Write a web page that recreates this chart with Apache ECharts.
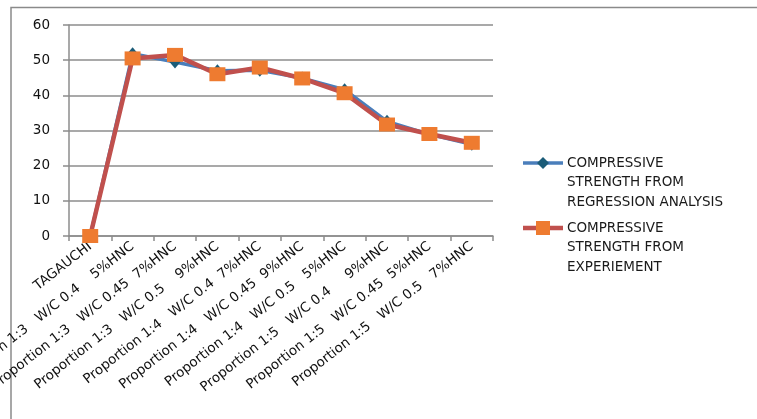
<!DOCTYPE html>
<html>
<head>
<meta charset="utf-8">
<script src="https://cdn.jsdelivr.net/npm/echarts@6/dist/echarts.min.js"></script>
<style>
html,body{margin:0;padding:0;background:#fff;overflow:hidden;}
#chart{width:757px;height:419px;}
</style>
</head>
<body>
<div id="chart"></div>
<script>
const categories = [
  "TAGAUCHI",
  "Proportion 1:3   W/C 0.4    5%HNC",
  "Proportion 1:3   W/C 0.45  7%HNC",
  "Proportion 1:3   W/C 0.5    9%HNC",
  "Proportion 1:4   W/C 0.4  7%HNC",
  "Proportion 1:4   W/C 0.45  9%HNC",
  "Proportion 1:4   W/C 0.5   5%HNC",
  "Proportion 1:5   W/C 0.4     9%HNC",
  "Proportion 1:5   W/C 0.45  5%HNC",
  "Proportion 1:5   W/C 0.5   7%HNC"
];
const regressionValues = [0, 51.8, 49.5, 47.0, 47.1, 44.9, 41.6, 32.6, 28.9, 26.1];
const experimentValues = [0, 50.5, 51.5, 46.0, 47.9, 44.8, 40.6, 31.7, 29.0, 26.5];
const yTicks = [0, 10, 20, 30, 40, 50, 60];
const seriesNames = ["COMPRESSIVE STRENGTH FROM REGRESSION ANALYSIS", "COMPRESSIVE STRENGTH FROM EXPERIEMENT"];
const legendLines = [
  ["COMPRESSIVE", "STRENGTH FROM", "REGRESSION ANALYSIS"],
  ["COMPRESSIVE", "STRENGTH FROM", "EXPERIEMENT"]
];

const gridColor = '#8c8c8c';
const blueLine = '#4a7ebb', blueMark = '#1b5c78';
const redLine = '#c0504d', orangeMark = '#ee7b30';

const chart = echarts.init(document.getElementById('chart'), null, {renderer: 'canvas'});

const legendFont = {fontFamily: 'DejaVu Sans', fontSize: 13.5, fill: '#1a1a1a'};
const legendGraphics = [];
const legendTops = [163, 228];
legendTops.forEach((y, i) => {
  const lc = i === 0 ? blueLine : redLine;
  legendGraphics.push({type: 'line', shape: {x1: 523, y1: y, x2: 563, y2: y}, style: {stroke: lc, lineWidth: i === 0 ? 3.5 : 4.5}});
  if (i === 0) {
    legendGraphics.push({type: 'polygon', shape: {points: [[543, y - 6], [549, y], [543, y + 6], [537, y]]}, style: {fill: blueMark}});
  } else {
    legendGraphics.push({type: 'rect', shape: {x: 536, y: y - 7, width: 14, height: 14}, style: {fill: orangeMark}});
  }
  legendLines[i].forEach((t, k) => {
    legendGraphics.push({type: 'text', x: 567, y: y + k * 19.5, style: Object.assign({text: t, verticalAlign: 'middle', align: 'left'}, legendFont)});
  });
});

chart.setOption({
  animation: false,
  backgroundColor: '#fff',
  grid: {left: 69, right: 264, top: 25, bottom: 183, containLabel: false, outerBoundsMode: 'none'},
  xAxis: {
    type: 'category',
    data: categories,
    boundaryGap: true,
    axisLine: {show: true, lineStyle: {color: gridColor, width: 1.5}},
    axisTick: {show: true, alignWithLabel: false, interval: 0, length: 5, lineStyle: {color: gridColor, width: 1.5}},
    axisLabel: {interval: 0, rotate: 38, margin: 9, color: '#111', fontFamily: 'DejaVu Sans', fontSize: 13.5}
  },
  yAxis: {
    type: 'value',
    min: 0, max: 60, interval: 10,
    axisLine: {show: true, lineStyle: {color: gridColor, width: 1.5}},
    axisTick: {show: true, length: 6, lineStyle: {color: gridColor, width: 1.5}},
    splitLine: {show: true, lineStyle: {color: gridColor, width: 1.5}},
    axisLabel: {margin: 19, color: '#111', fontFamily: 'DejaVu Sans', fontSize: 13.5,
      formatter: v => yTicks.includes(v) ? String(v) : ''}
  },
  graphic: [
    {type: 'rect', shape: {x: 11, y: 7.5, width: 900, height: 600}, style: {stroke: '#8a8a8a', lineWidth: 1.5, fill: null}, z: 0, silent: true}
  ].concat(legendGraphics),
  series: [
    {
      name: seriesNames[0], type: 'line', data: regressionValues,
      symbol: 'diamond', symbolSize: [11, 13],
      lineStyle: {color: blueLine, width: 3.5},
      itemStyle: {color: blueMark},
      z: 2
    },
    {
      name: seriesNames[1], type: 'line', data: experimentValues,
      symbol: 'rect', symbolSize: [16, 14],
      lineStyle: {color: redLine, width: 4.5},
      itemStyle: {color: orangeMark},
      z: 3
    }
  ]
});
</script>
</body>
</html>
